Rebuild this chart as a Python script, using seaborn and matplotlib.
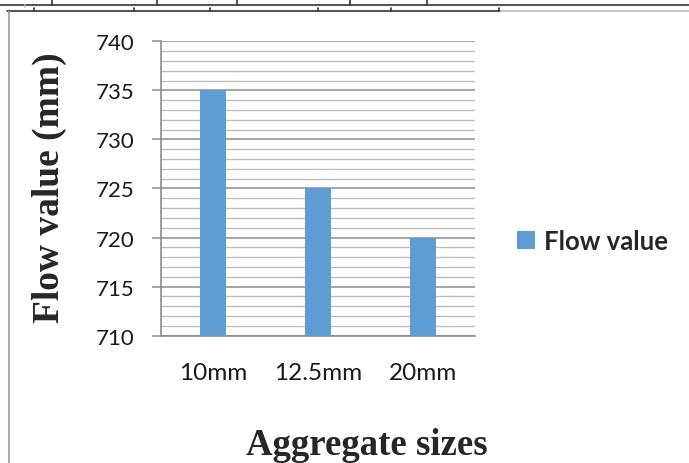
import matplotlib
matplotlib.use("Agg")
import matplotlib.pyplot as plt
from matplotlib.lines import Line2D
from matplotlib.patches import Patch
import seaborn as sns
import pandas as pd

sizes = ["10mm", "12.5mm", "20mm"]
flow_values = [735, 725, 720]
y_ticks = [710, 715, 720, 725, 730, 735, 740]

df = pd.DataFrame({"size": sizes, "flow": flow_values})

sns.set_style("white")
plt.rcParams["font.family"] = ["Lato", "DejaVu Sans"]

W, H = 689.0, 464.0
fig = plt.figure(figsize=(6.89, 4.64), dpi=100)
ax = fig.add_axes([0.2332, 0.2744, 0.4562, 0.6344])

bar_color = "#5F9CD4"
sns.barplot(data=df, x="size", y="flow", color=bar_color, width=0.25,
            saturation=1, ax=ax, zorder=3, linewidth=0, edgecolor="none")

ax.set_ylim(710, 740)
ax.set_xlim(-0.5, 2.5)
ax.set_yticks(y_ticks)
ax.set_yticks(range(710, 741), minor=True)
ax.yaxis.grid(True, which="major", color="#8C8C8C", linewidth=1.1, zorder=0)
ax.yaxis.grid(True, which="minor", color="#BDBDBD", linewidth=1.0, zorder=0)
ax.set_axisbelow(True)

for side in ["top", "right"]:
    ax.spines[side].set_visible(False)
for side in ["left", "bottom"]:
    ax.spines[side].set_color("#8C8C8C")
    ax.spines[side].set_linewidth(1.2)

ax.tick_params(axis="y", which="major", length=6.5, width=1.1, color="#8C8C8C",
               labelsize=16, labelcolor="#1A1A1A", pad=12, left=True)
ax.tick_params(axis="y", which="minor", length=0)
ax.tick_params(axis="x", length=0, labelsize=17.5, labelcolor="#1A1A1A", pad=19)

ax.set_xlabel("")
ax.set_ylabel("")
fig.text(367 / W, 1 - 455 / H, "Aggregate sizes", ha="center", va="baseline",
         fontsize=26.5, fontweight="bold", family="Liberation Serif")
fig.text(49 / W, 1 - 188 / H, "Flow value (mm)", ha="center", va="center",
         rotation=90, fontsize=27, fontweight="bold", family="Liberation Serif")

handle = Patch(facecolor=bar_color, edgecolor="none")
fig.legend([handle], ["Flow value"], loc="center left",
           bbox_to_anchor=(517 / W, 1 - 242 / H), frameon=False,
           prop={"family": "Lato", "weight": "bold", "size": 18.5},
           handlelength=0.7, handleheight=0.7, handletextpad=0.35,
           borderpad=0, borderaxespad=0)

# surrounding page frame lines
def hline(x0, x1, y, c="#333333", lw=1.2):
    fig.add_artist(Line2D([x0 / W, x1 / W], [1 - y / H, 1 - y / H],
                          color=c, linewidth=lw, transform=fig.transFigure))
def vline(x, y0, y1, c="#333333", lw=1.2):
    fig.add_artist(Line2D([x / W, x / W], [1 - y0 / H, 1 - y1 / H],
                          color=c, linewidth=lw, transform=fig.transFigure))

hline(0, 689, 6)
for x in [52, 157, 237, 350, 427]:
    vline(x, 0, 6)
hline(7, 500, 12)
hline(500, 689, 12, c="#BBBBBB")
for x in [34, 134, 210, 318, 391, 499]:
    vline(x, 9, 12)
vline(25, 6, 8, c="#BBBBBB")
vline(9, 13, 464, c="#AAAAAA", lw=1.5)

fig.savefig("out.png", dpi=100)
